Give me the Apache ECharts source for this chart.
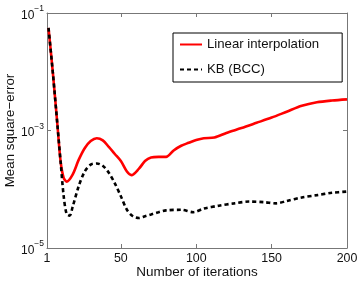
<!DOCTYPE html>
<html><head><meta charset="utf-8">
<script src="https://cdn.jsdelivr.net/npm/echarts@6/dist/echarts.min.js"></script>
<style>html,body{margin:0;padding:0;background:#fff}#c{width:360px;height:282px}</style>
</head><body><div id="c"></div>
<script>
const seriesNames = ['Linear interpolation', 'KB (BCC)'];
const xTicks = [1, 50, 100, 150, 200];
const yTicks = [1e-5, 1e-3, 1e-1];
const iterLinear = [2, 5, 8, 10, 12, 14, 18, 22, 26, 30, 34, 38, 42, 46, 50, 54, 57, 62, 66, 70, 75, 80, 85, 90, 95, 100, 105, 112, 120, 130, 140, 150, 160, 170, 180, 190, 200];
const mseLinear = [5.6e-2, 8.9e-3, 1.17e-3, 3.0e-4, 1.58e-4, 1.35e-4, 1.78e-4, 3.16e-4, 5.0e-4, 6.6e-4, 7.4e-4, 6.8e-4, 5.25e-4, 3.98e-4, 3.02e-4, 2.0e-4, 1.74e-4, 2.24e-4, 3.02e-4, 3.47e-4, 3.55e-4, 3.55e-4, 4.57e-4, 5.5e-4, 6.17e-4, 6.9e-4, 7.4e-4, 7.6e-4, 9.1e-4, 1.10e-3, 1.35e-3, 1.66e-3, 2.09e-3, 2.63e-3, 3.02e-3, 3.24e-3, 3.39e-3];
const iterKB = [2, 5, 8, 10, 12, 14, 16, 18, 22, 26, 30, 34, 38, 42, 46, 50, 54, 58, 62, 66, 70, 75, 80, 90, 98, 105, 115, 125, 135, 145, 153, 160, 170, 180, 190, 200];
const mseKB = [5.6e-2, 8.9e-3, 1.17e-3, 3.0e-4, 7.9e-5, 3.8e-5, 3.55e-5, 5.0e-5, 1.12e-4, 2.0e-4, 2.63e-4, 2.75e-4, 2.51e-4, 1.91e-4, 1.26e-4, 7.6e-5, 4.47e-5, 3.47e-5, 3.24e-5, 3.47e-5, 3.72e-5, 4.07e-5, 4.37e-5, 4.47e-5, 4.07e-5, 4.68e-5, 5.25e-5, 5.75e-5, 6.17e-5, 6.03e-5, 5.75e-5, 6.31e-5, 7.24e-5, 7.94e-5, 8.71e-5, 9.12e-5];

const FONT = '"Liberation Sans", Arial, sans-serif';
const AX = '#777';
const chart = echarts.init(document.getElementById('c'), null, {renderer: 'canvas'});
function xAxisBase(pos, showLabel) {
  return {
    type: 'value', position: pos, min: 1, max: 200,
    axisLine: {show: true, onZero: false, lineStyle: {color: AX, width: 1}},
    axisTick: {show: true, inside: true, length: 4, customValues: xTicks, lineStyle: {color: AX}},
    axisLabel: {show: showLabel, customValues: xTicks, color: '#111', fontSize: 12.4, fontFamily: FONT, margin: 5},
    splitLine: {show: false}
  };
}
function yAxisBase(pos, showLabel) {
  return {
    type: 'log', position: pos, min: 1e-5, max: 1e-1, logBase: 10,
    axisLine: {show: true, onZero: false, lineStyle: {color: AX, width: 1}},
    axisTick: {show: true, inside: true, length: 4, customValues: yTicks, lineStyle: {color: AX}},
    axisLabel: {
      show: showLabel, customValues: yTicks, margin: 3, fontFamily: FONT, color: '#111',
      formatter: function (v) { return '{b|10}{s|\u2212' + Math.abs(Math.round(Math.log10(v))) + '}'; },
      rich: {
        b: {fontSize: 12, fontFamily: FONT, color: '#111', verticalAlign: 'bottom'},
        s: {fontSize: 8.5, fontFamily: FONT, color: '#111', verticalAlign: 'bottom', padding: [0, 0, 8, 0]}
      }
    },
    splitLine: {show: false}
  };
}
const xb = xAxisBase('bottom', true);
xb.name = 'Number of iterations';
xb.nameLocation = 'middle';
xb.nameGap = 17;
xb.nameMoveOverlap = false;
xb.nameTextStyle = {fontSize: 13.5, fontFamily: FONT, color: '#111'};
const yl = yAxisBase('left', true);
yl.name = 'Mean square\u2212error';
yl.nameLocation = 'middle';
yl.nameGap = 30;
yl.nameMoveOverlap = false;
yl.nameTextStyle = {fontSize: 13.3, fontFamily: FONT, color: '#111'};

chart.setOption({
  animation: false,
  backgroundColor: '#fff',
  grid: {left: 47, right: 13, top: 13, bottom: 34, containLabel: false, outerBoundsMode: 'none'},
  xAxis: [xb, xAxisBase('top', false)],
  yAxis: [yl, yAxisBase('right', false)],
  legend: {
    left: 173, top: 33, orient: 'vertical',
    data: seriesNames,
    backgroundColor: '#fff', borderColor: '#000', borderWidth: 1, borderRadius: 0,
    padding: [5, 23, 6, 6], itemWidth: 22, itemHeight: 14, itemGap: 12, itemTextGap: 4,
    itemStyle: {opacity: 0},
    textStyle: {fontSize: 13.2, fontFamily: FONT, color: '#111'}
  },
  series: [
    {
      name: seriesNames[0], type: 'line', xAxisIndex: 0, yAxisIndex: 0,
      data: iterLinear.map((x, i) => [x, mseLinear[i]]),
      symbol: 'none', smooth: 0.3, z: 2,
      lineStyle: {color: '#ff0000', width: 2.6}, itemStyle: {color: '#ff0000'}
    },
    {
      name: seriesNames[1], type: 'line', xAxisIndex: 0, yAxisIndex: 0,
      data: iterKB.map((x, i) => [x, mseKB[i]]),
      symbol: 'none', smooth: 0.3, z: 3,
      lineStyle: {color: '#000', width: 2.6, type: [4, 3]}, itemStyle: {color: '#000'}
    }
  ]
});
</script></body></html>
